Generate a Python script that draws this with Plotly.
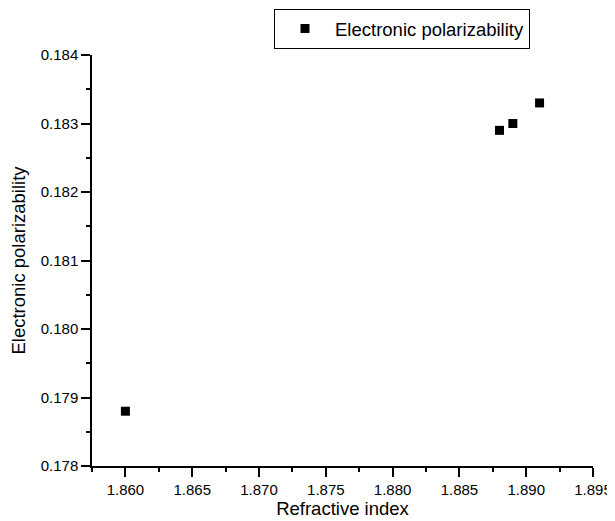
import plotly.graph_objects as go

refractive_index = [1.860, 1.888, 1.889, 1.891]
polarizability = [0.1788, 0.1829, 0.1830, 0.1833]
series_name = "Electronic polarizability"
x_title = "Refractive index"
y_title = "Electronic polarizability"

FONT = "Liberation Sans, Arial, sans-serif"
TITLE_SIZE = 18.5
TICK_SIZE = 15

fig = go.Figure()
fig.add_trace(go.Scatter(
    x=refractive_index, y=polarizability, mode="markers", name=series_name,
    marker=dict(symbol="square", size=9, color="black"),
    showlegend=True,
))

axis_common = dict(
    showline=True, linecolor="black", linewidth=1.5, mirror=False,
    ticks="outside", ticklen=9, tickwidth=1.5, tickcolor="black",
    showgrid=False, zeroline=False, automargin=False,
    tickfont=dict(family=FONT, size=TICK_SIZE, color="black"),
    title_font=dict(family=FONT, size=TITLE_SIZE, color="black"),
)

fig.update_xaxes(
    range=[1.8575, 1.895], dtick=0.005, tick0=1.860, tickformat=".3f",
    minor=dict(ticks="outside", ticklen=4, tickwidth=1.5, tickcolor="black", dtick=0.0025, tick0=1.8575),
    title_text=x_title, title_standoff=5, **axis_common,
)
fig.update_yaxes(
    range=[0.178, 0.184], dtick=0.001, tick0=0.178, tickformat=".3f",
    minor=dict(ticks="outside", ticklen=4, tickwidth=1.5, tickcolor="black", dtick=0.0005),
    title_text=y_title, title_standoff=13, **axis_common,
)

fig.update_layout(
    width=615, height=521,
    margin=dict(l=84, r=30, t=47, b=63, autoexpand=False),
    plot_bgcolor="white", paper_bgcolor="white",
    font=dict(family=FONT, size=TICK_SIZE, color="black"),
    legend=dict(
        x=0.3633, y=1.112, xanchor="left", yanchor="top",
        bordercolor="black", borderwidth=1, bgcolor="white",
        font=dict(family=FONT, size=TITLE_SIZE, color="black"),
        itemwidth=50,
    ),
)

fig.write_html("out.html")
